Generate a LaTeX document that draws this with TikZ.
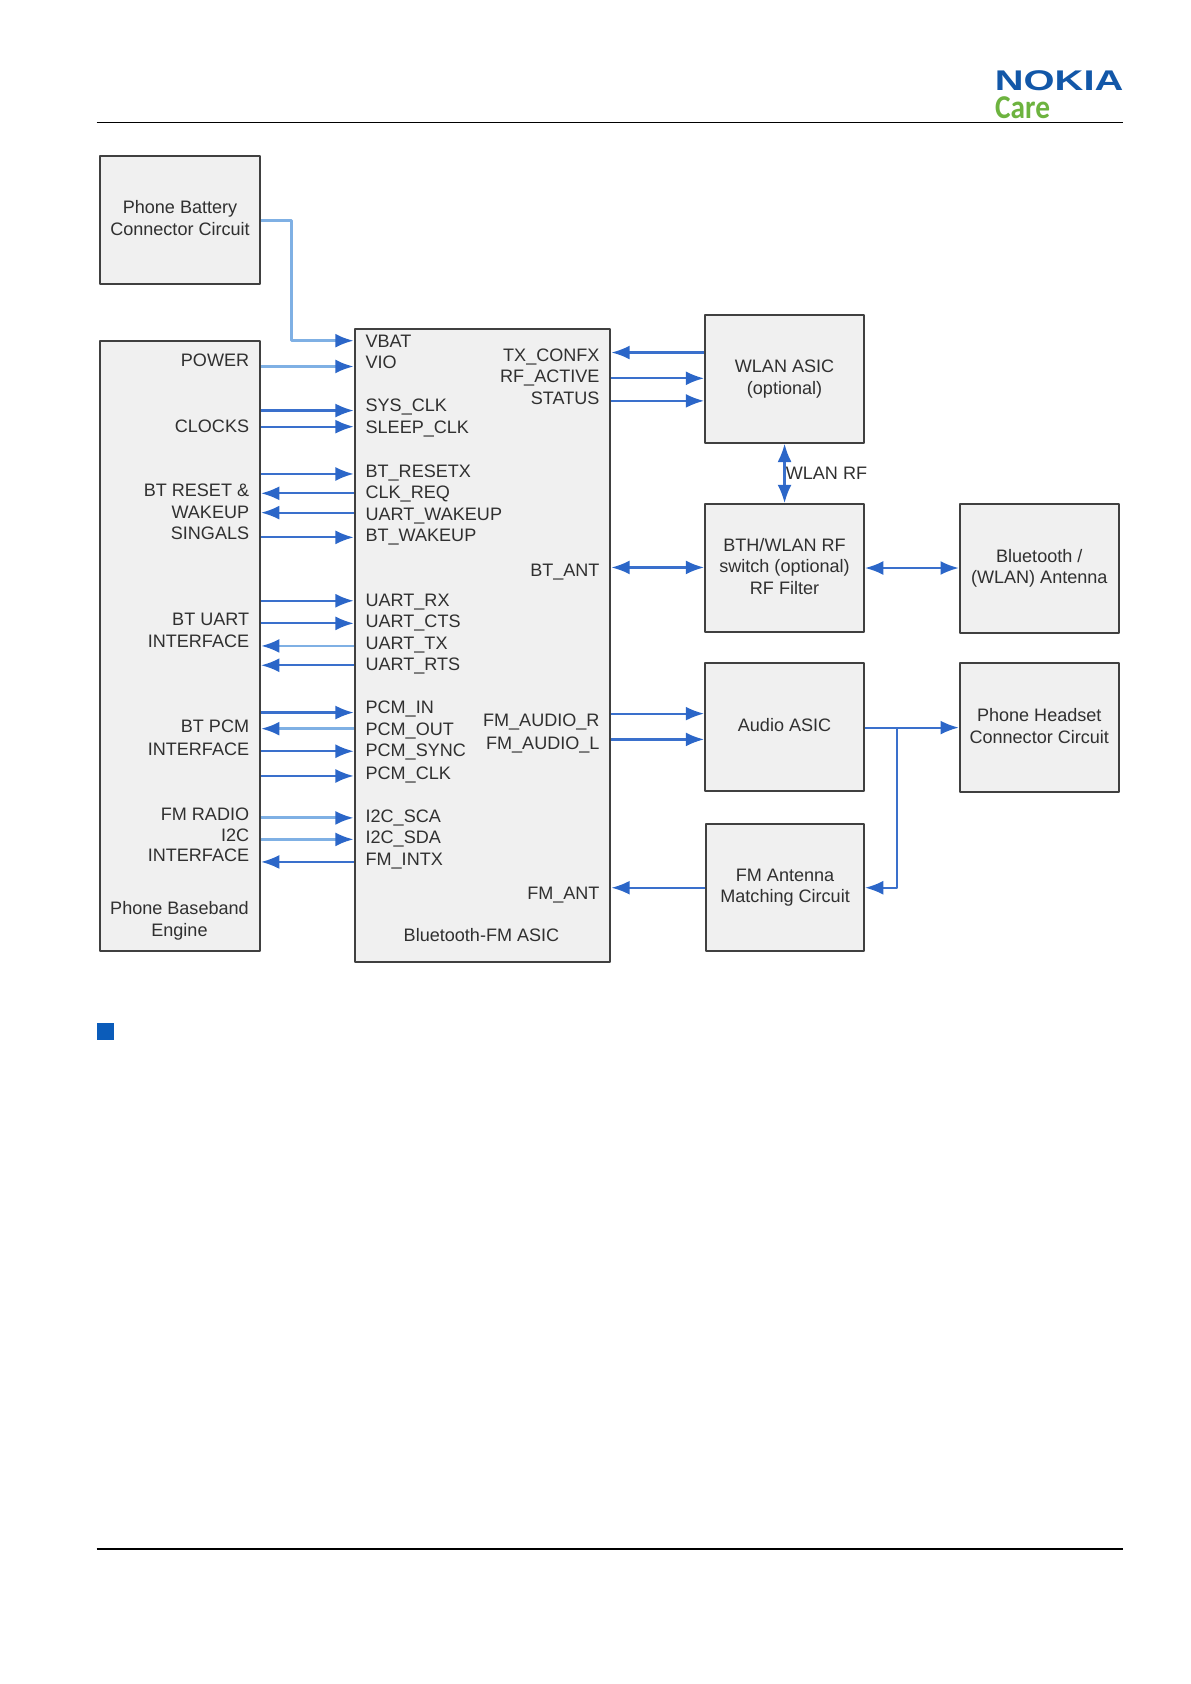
\documentclass[tikz,border=0pt]{standalone}
\usepackage{fontspec}
\setmainfont{Liberation Sans}
\newfontfamily\carefont{Carlito}
\usetikzlibrary{arrows.meta}
\definecolor{boxfill}{HTML}{F0F0F0}
\definecolor{boxline}{HTML}{404040}
\definecolor{labeltext}{HTML}{303030}
\definecolor{tipblue}{HTML}{2B66C8}
\definecolor{wireblue}{HTML}{3A70CC}
\definecolor{wirelight}{HTML}{7FB0E4}
\definecolor{nokiablue}{HTML}{1257A8}
\definecolor{caregreen}{HTML}{6DB33F}
\definecolor{bulletblue}{HTML}{0B5CBA}
\tikzset{
  block/.style={draw=boxline,line width=1.8pt,fill=boxfill,inner sep=0pt,align=center,text=labeltext,text depth=3.5pt,font=\fontsize{16.8}{20}\selectfont},
  pinleft/.style={anchor=base west,inner sep=0pt,text=labeltext,font=\fontsize{16.8}{20}\selectfont},
  pinright/.style={anchor=base east,inner sep=0pt,text=labeltext,font=\fontsize{16.8}{20}\selectfont},
  caption/.style={inner sep=0pt,align=center,text=labeltext,font=\fontsize{16.8}{20}\selectfont},
  headrule/.style={black,line width=1.6pt},
  sig/.style={draw=wireblue,line width=2pt,-{Latex[length=17pt,width=13pt,color=tipblue]}},
  sigpale/.style={draw=wirelight,line width=2.6pt,-{Latex[length=17pt,width=13pt,color=tipblue]}},
  sigboth/.style={draw=wireblue,line width=2pt,{Latex[length=17pt,width=13pt,color=tipblue]}-{Latex[length=17pt,width=13pt,color=tipblue]}},
}
\begin{document}
\begin{tikzpicture}[x=1pt,y=-1pt,line join=bevel]
 \useasboundingbox (0,0) rectangle (1108,1566.9);

 \node (node_nokia) at (985.5,75.5) [text=nokiablue,inner sep=0pt,font=\fontsize{26.5}{26.5}\selectfont\bfseries] {\scalebox{1.4}[1]{NOKIA}};
 \node (node_care) at (951.5,100.5) [text=caregreen,inner sep=0pt,font=\fontsize{31}{31}\selectfont\carefont\bfseries] {\scalebox{0.88}[1]{Care}};
 \coordinate (rule_tl) at (90,114);
 \coordinate (rule_tr) at (1045,114);
 \coordinate (rule_bl) at (90,1441);
 \coordinate (rule_br) at (1045,1441);
 \draw [headrule] (rule_tl) -- (rule_tr);
 \draw [headrule] (rule_bl) -- (rule_br);
 \node (node_bullet) at (98,960) [fill=bulletblue,minimum size=16pt,inner sep=0pt] {};

 \node (node_battery) at (167.5,204.5) [block,minimum width=149pt,minimum height=119pt] {Phone Battery\\Connector Circuit};
 \node (node_base) at (167.5,601) [block,minimum width=149pt,minimum height=568pt] {};
 \node (node_asic) at (449,600.5) [block,minimum width=238pt,minimum height=589pt] {};
 \node (node_wlan) at (730,352.5) [block,minimum width=148pt,minimum height=119pt] {WLAN ASIC\\(optional)};
 \node (node_switch) at (730,528.5) [block,minimum width=148pt,minimum height=119pt] {BTH/WLAN RF\\switch (optional)\\RF Filter};
 \node (node_antenna) at (967,529) [block,minimum width=148pt,minimum height=120pt] {Bluetooth /\\(WLAN) Antenna};
 \node (node_audio) at (730,676.5) [block,minimum width=148pt,minimum height=119pt] {Audio ASIC};
 \node (node_headset) at (967,677) [block,minimum width=148pt,minimum height=120pt] {Phone Headset\\Connector Circuit};
 \node (node_match) at (730.5,826) [block,minimum width=147pt,minimum height=118pt] {FM Antenna\\Matching Circuit};

 \node (cap_base) at (167,857) [caption] {Phone Baseband\\Engine};
 \node (cap_asic) at (448,870) [caption] {Bluetooth-FM ASIC};
 \node (cap_wlanrf) at (769,440) [caption] {WLAN RF};

 \node (grp_power) at (232,341) [pinright] {POWER};
 \node (grp_clocks) at (232,402) [pinright] {CLOCKS};
 \node (grp_reset_a) at (232,462) [pinright] {BT RESET \&};
 \node (grp_reset_b) at (232,482) [pinright] {WAKEUP};
 \node (grp_reset_c) at (232,502) [pinright] {SINGALS};
 \node (grp_uart_a) at (232,582) [pinright] {BT UART};
 \node (grp_uart_b) at (232,602) [pinright] {INTERFACE};
 \node (grp_pcm_a) at (232,682) [pinright] {BT PCM};
 \node (grp_pcm_b) at (232,703) [pinright] {INTERFACE};
 \node (grp_fm_a) at (232,763) [pinright] {FM RADIO};
 \node (grp_fm_b) at (232,783) [pinright] {I2C};
 \node (grp_fm_c) at (232,802) [pinright] {INTERFACE};

 \node (pin_vbat) at (340,323) [pinleft] {VBAT};
 \node (pin_vio) at (340,343) [pinleft] {VIO};
 \node (pin_sysclk) at (340,383) [pinleft] {SYS\_CLK};
 \node (pin_sleepclk) at (340,403) [pinleft] {SLEEP\_CLK};
 \node (pin_btreset) at (340,444) [pinleft] {BT\_RESETX};
 \node (pin_clkreq) at (340,464) [pinleft] {CLK\_REQ};
 \node (pin_uartwake) at (340,484) [pinleft] {UART\_WAKEUP};
 \node (pin_btwake) at (340,504) [pinleft] {BT\_WAKEUP};
 \node (pin_uartrx) at (340,564) [pinleft] {UART\_RX};
 \node (pin_uartcts) at (340,584) [pinleft] {UART\_CTS};
 \node (pin_uarttx) at (340,604) [pinleft] {UART\_TX};
 \node (pin_uartrts) at (340,624) [pinleft] {UART\_RTS};
 \node (pin_pcmin) at (340,664) [pinleft] {PCM\_IN};
 \node (pin_pcmout) at (340,684) [pinleft] {PCM\_OUT};
 \node (pin_pcmsync) at (340,704) [pinleft] {PCM\_SYNC};
 \node (pin_pcmclk) at (340,725) [pinleft] {PCM\_CLK};
 \node (pin_i2cscl) at (340,765) [pinleft] {I2C\_SCA};
 \node (pin_i2csda) at (340,785) [pinleft] {I2C\_SDA};
 \node (pin_fmintx) at (340,805) [pinleft] {FM\_INTX};

 \node (pin_txconf) at (558,336) [pinright] {TX\_CONFX};
 \node (pin_rfactive) at (558,356) [pinright] {RF\_ACTIVE};
 \node (pin_status) at (558,376) [pinright] {STATUS};
 \node (pin_btant) at (558,536) [pinright] {BT\_ANT};
 \node (pin_audior) at (558,676) [pinright] {FM\_AUDIO\_R};
 \node (pin_audiol) at (558,697) [pinright] {FM\_AUDIO\_L};
 \node (pin_fmant) at (558,837) [pinright] {FM\_ANT};

 \coordinate (bend_a) at (271,205);
 \coordinate (bend_b) at (271,317);
 \coordinate (tee_audio) at (835,677);
 \coordinate (bend_c) at (835,826);

 \draw [sigpale] (node_battery.east |- bend_a) -- (bend_a) -- (bend_b) -- (node_asic.west |- bend_b);
 \draw [sigpale] (node_base.east |- 0,341) -- (node_asic.west |- 0,341);
 \draw [sig] (node_base.east |- 0,382) -- (node_asic.west |- 0,382);
 \draw [sig] (node_base.east |- 0,397) -- (node_asic.west |- 0,397);
 \draw [sig] (node_base.east |- 0,441) -- (node_asic.west |- 0,441);
 \draw [sig] (node_asic.west |- 0,459) -- (node_base.east |- 0,459);
 \draw [sig] (node_asic.west |- 0,477) -- (node_base.east |- 0,477);
 \draw [sig] (node_base.east |- 0,500) -- (node_asic.west |- 0,500);
 \draw [sig] (node_base.east |- 0,559) -- (node_asic.west |- 0,559);
 \draw [sig] (node_base.east |- 0,580) -- (node_asic.west |- 0,580);
 \draw [sigpale] (node_asic.west |- 0,601) -- (node_base.east |- 0,601);
 \draw [sig] (node_asic.west |- 0,619) -- (node_base.east |- 0,619);
 \draw [sig] (node_base.east |- 0,663) -- (node_asic.west |- 0,663);
 \draw [sigpale] (node_asic.west |- 0,678) -- (node_base.east |- 0,678);
 \draw [sig] (node_base.east |- 0,699) -- (node_asic.west |- 0,699);
 \draw [sig] (node_base.east |- 0,722) -- (node_asic.west |- 0,722);
 \draw [sigpale] (node_base.east |- 0,761) -- (node_asic.west |- 0,761);
 \draw [sigpale] (node_base.east |- 0,781) -- (node_asic.west |- 0,781);
 \draw [sig] (node_asic.west |- 0,802) -- (node_base.east |- 0,802);

 \draw [sig] (node_wlan.west |- 0,328) -- (node_asic.east |- 0,328);
 \draw [sig] (node_asic.east |- 0,352) -- (node_wlan.west |- 0,352);
 \draw [sig] (node_asic.east |- 0,373) -- (node_wlan.west |- 0,373);
 \draw [sigboth] (node_asic.east |- 0,528) -- (node_switch.west |- 0,528);
 \draw [sigboth] (node_wlan.south) -- (node_switch.north);
 \draw [sigboth] (node_switch.east) -- (node_antenna.west |- node_switch.east);
 \draw [sig] (node_asic.east |- 0,664) -- (node_audio.west |- 0,664);
 \draw [sig] (node_asic.east |- 0,688) -- (node_audio.west |- 0,688);
 \draw [sig] (node_audio.east |- tee_audio) -- (node_headset.west |- tee_audio);
 \draw [sig] (tee_audio) -- (bend_c) -- (node_match.east |- bend_c);
 \draw [sig] (node_match.west) -- (node_asic.east |- node_match.west);

\end{tikzpicture}
\end{document}
